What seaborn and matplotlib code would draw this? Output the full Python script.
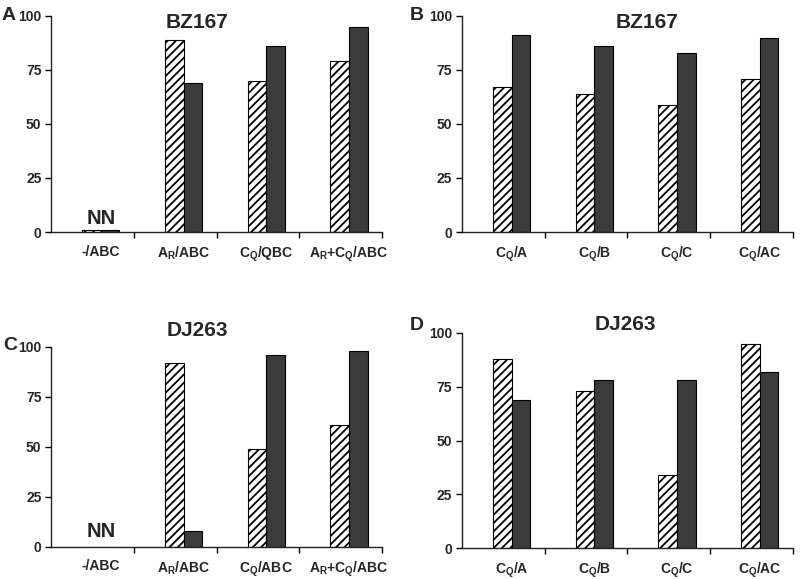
import numpy as np
import pandas as pd
import matplotlib
matplotlib.use("Agg")
import matplotlib.pyplot as plt
import seaborn as sns

# Data
cats_a = ['-/ABC', 'A$_R$/ABC', 'C$_Q$/QBC', 'A$_R$+C$_Q$/ABC']
cats_c = ['-/ABC', 'A$_R$/ABC', 'C$_Q$/ABC', 'A$_R$+C$_Q$/ABC']
cats_bd = ['C$_Q$/A', 'C$_Q$/B', 'C$_Q$/C', 'C$_Q$/AC']

a_hatched = [1, 89, 70, 79]
a_dark = [1, 69, 86, 95]
b_hatched = [67, 64, 59, 71]
b_dark = [91, 86, 83, 90]
c_hatched = [0, 92, 49, 61]
c_dark = [0, 8, 96, 98]
d_hatched = [88, 73, 34, 95]
d_dark = [69, 78, 78, 82]

yticks = [0, 25, 50, 75, 100]

sns.set_style('white')
plt.rcParams['font.family'] = ['Liberation Sans', 'DejaVu Sans']
plt.rcParams['font.weight'] = 'bold'
plt.rcParams['mathtext.fontset'] = 'custom'
plt.rcParams['mathtext.rm'] = 'Liberation Sans:bold'
plt.rcParams['mathtext.it'] = 'Liberation Sans:bold'
plt.rcParams['mathtext.default'] = 'rm'
plt.rcParams['hatch.linewidth'] = 1.3

fig = plt.figure(figsize=(8, 5.79), dpi=100)


def panel(rect, cats, hatched, dark):
    ax = fig.add_axes(rect)
    df = pd.DataFrame({
        'cat': cats * 2,
        'val': hatched + dark,
        'grp': ['h'] * len(cats) + ['d'] * len(cats),
    })
    sns.barplot(data=df, x='cat', y='val', hue='grp', hue_order=['h', 'd'],
                palette={'h': 'white', 'd': '#3b3b3b'}, width=0.45,
                edgecolor='black', linewidth=0.8, legend=False, ax=ax,
                order=cats, errorbar=None)
    for bar in ax.containers[0]:
        bar.set_hatch('////')
    ax.set_xlim(-0.6, 3.4)
    ax.set_ylim(0, 100)
    ax.set_yticks(yticks)
    ax.set_xlabel('')
    ax.set_ylabel('')
    ax.set_xticks(range(len(cats)))
    ax.set_xticklabels(cats)
    ax.set_xticks([0.4, 1.4, 2.4, 3.4], minor=True)
    ax.tick_params(axis='x', which='major', length=0, pad=9, labelsize=10)
    ax.tick_params(axis='x', which='minor', length=4, width=1, color='black',
                   direction='out', bottom=True)
    ax.tick_params(axis='y', length=4, width=1, color='black', direction='out',
                   left=True, pad=3, labelsize=10)
    for lab in ax.get_xticklabels() + ax.get_yticklabels():
        lab.set_fontweight('bold')
    sns.despine(ax=ax)
    for s in ['left', 'bottom']:
        ax.spines[s].set_color('#222222')
        ax.spines[s].set_linewidth(1)
    return ax


ax_a = panel([0.064, 0.5993, 0.4135, 0.3731], cats_a, a_hatched, a_dark)
ax_b = panel([0.5775, 0.5993, 0.4135, 0.3731], cats_bd, b_hatched, b_dark)
ax_c = panel([0.064, 0.0553, 0.4135, 0.3454], cats_c, c_hatched, c_dark)
ax_d = panel([0.5775, 0.0535, 0.4135, 0.3714], cats_bd, d_hatched, d_dark)

# NN labels above empty groups
ax_a.text(0, 2, 'NN', ha='center', va='bottom', fontsize=14.5, fontweight='bold')
ax_c.text(0, 3, 'NN', ha='center', va='bottom', fontsize=14.5, fontweight='bold')

# Panel titles and letters
tkw = dict(ha='center', va='center', fontsize=15, fontweight='bold')
fig.text(197 / 800, 1 - 22 / 579, 'BZ167', **tkw)
fig.text(647 / 800, 1 - 22 / 579, 'BZ167', **tkw)
fig.text(197 / 800, 1 - 330 / 579, 'DJ263', **tkw)
fig.text(625 / 800, 1 - 325 / 579, 'DJ263', **tkw)

lkw = dict(ha='left', va='center', fontsize=14, fontweight='bold')
fig.text(2 / 800, 1 - 16 / 579, 'A', **lkw)
fig.text(410 / 800, 1 - 15 / 579, 'B', **lkw)
fig.text(3 / 800, 1 - 346 / 579, 'C', **lkw)
fig.text(410 / 800, 1 - 325 / 579, 'D', **lkw)

fig.savefig('out.png', dpi=100)
